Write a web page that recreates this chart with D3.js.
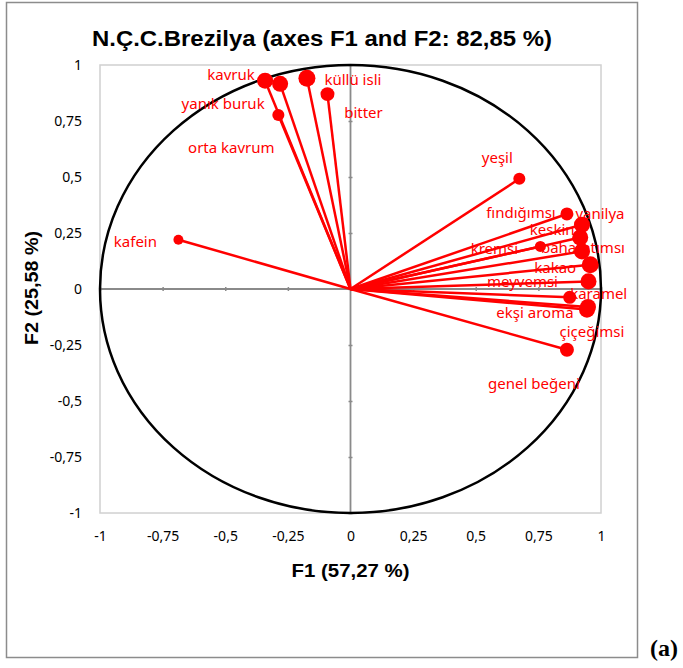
<!DOCTYPE html>
<html>
<head>
<meta charset="utf-8">
<script src="https://cdn.jsdelivr.net/npm/d3@7"></script>
<style>
  html, body { margin: 0; padding: 0; background: #fff; }
  svg { display: block; }
</style>
</head>
<body>
<svg id="chart" width="683" height="668"></svg>
<script>
// Variable loadings on the first two factors (correlation circle)
const variables = ["kavruk", "yanık buruk", "orta kavrum", "küllü isli", "bitter", "kafein",
  "yeşil", "fındığımsı", "vanilya", "keskin", "kremsi", "baharatımsı", "kakao",
  "meyvemsi", "karamel", "ekşi aroma", "çiçeğimsi", "genel beğeni"];
const f1 = [-0.341, -0.281, -0.288, -0.174, -0.092, -0.687,
  0.674, 0.864, 0.924, 0.917, 0.758, 0.924, 0.957,
  0.950, 0.875, 0.944, 0.948, 0.864];
const f2 = [0.930, 0.916, 0.777, 0.941, 0.870, 0.220,
  0.492, 0.335, 0.287, 0.230, 0.190, 0.168, 0.108,
  0.034, -0.037, -0.092, -0.080, -0.271];
// Representation quality of each variable (drives the marker size)
const quality = [0.94, 0.94, 0.69, 1.00, 0.81, 0.56,
  0.69, 0.75, 0.94, 0.94, 0.63, 0.94, 1.00,
  0.94, 0.75, 0.94, 0.94, 0.81];
const ticks = [-1, -0.75, -0.5, -0.25, 0, 0.25, 0.5, 0.75, 1];
const titleText = "N.Ç.C.Brezilya (axes F1 and F2: 82,85 %)";
const xTitle = "F1 (57,27 %)";
const yTitle = "F2 (25,58 %)";

// Label placement relative to each marker (px)
const labelOffset = {
  "kavruk": [-34, -7], "yanık buruk": [-57, 19], "orta kavrum": [-47, 32],
  "küllü isli": [46, 1], "bitter": [36, 18], "kafein": [-43, 1],
  "yeşil": [-22, -22], "fındığımsı": [-46, -2], "vanilya": [18, -12],
  "keskin": [-28, -8], "kremsi": [-46, 2], "baharatımsı": [1, -4],
  "kakao": [-35, 2], "meyvemsi": [-66, 0], "karamel": [29, -4],
  "ekşi aroma": [-52, 2], "çiçeğimsi": [4, 24], "genel beğeni": [-33, 33]
};

const data = variables.map((name, i) => ({ name, x: f1[i], y: f2[i], q: quality[i] }));

const svg = d3.select("#chart");
const plot = { left: 100, right: 601, top: 65, bottom: 513 };
const x = d3.scaleLinear().domain([-1, 1]).range([plot.left, plot.right]);
const y = d3.scaleLinear().domain([-1, 1]).range([plot.bottom, plot.top]);
const r = d3.scaleLinear().domain([0.5, 1]).range([4.5, 8.5]);
const fmt = v => String(v).replace(".", ",");
const red = "#ff0000";
const tickFont = "'Noto Sans', 'Open Sans', sans-serif";
const boldFont = "'Liberation Sans', Arial, sans-serif";

// Outer frame
svg.append("rect").attr("x", 6.5).attr("y", 2.5).attr("width", 631).attr("height", 655)
  .attr("fill", "none").attr("stroke", "#8c8c8c").attr("stroke-width", 1.5);

// Plot area frame
svg.append("rect").attr("x", plot.left).attr("y", plot.top)
  .attr("width", plot.right - plot.left).attr("height", plot.bottom - plot.top)
  .attr("fill", "none").attr("stroke", "#d0d0d0").attr("stroke-width", 1.5);

// Zero axes with cross ticks
const axisColor = "#8a8a8a";
svg.append("line").attr("x1", x(0)).attr("x2", x(0)).attr("y1", y(-1)).attr("y2", y(1))
  .attr("stroke", axisColor).attr("stroke-width", 1.8);
svg.append("line").attr("x1", x(-1)).attr("x2", x(1)).attr("y1", y(0)).attr("y2", y(0))
  .attr("stroke", axisColor).attr("stroke-width", 1.8);
const xAxisAt0 = d3.axisBottom(x).tickValues(ticks).tickSizeInner(4).tickSizeOuter(0).tickFormat("");
const yAxisAt0 = d3.axisLeft(y).tickValues(ticks).tickSizeInner(4).tickSizeOuter(0).tickFormat("");
[[xAxisAt0, `translate(0,${y(0) - 2})`], [yAxisAt0, `translate(${x(0) + 2},0)`]].forEach(([ax, tr]) => {
  const g = svg.append("g").attr("transform", tr).call(ax);
  g.select(".domain").remove();
  g.selectAll(".tick line").attr("stroke", axisColor).attr("stroke-width", 1.5);
});

// Tick labels along the frame edges
const xLab = d3.axisBottom(x).tickValues(ticks).tickSize(0).tickPadding(0).tickFormat(fmt);
const gx = svg.append("g").attr("transform", `translate(0,${plot.bottom + 18})`).call(xLab);
gx.select(".domain").remove();
gx.selectAll("text").attr("font-family", tickFont).attr("font-size", 14).attr("fill", "#000");
const yLab = d3.axisLeft(y).tickValues(ticks).tickSize(0).tickPadding(18).tickFormat(fmt);
const gy = svg.append("g").attr("transform", `translate(${plot.left},0)`).call(yLab);
gy.select(".domain").remove();
gy.selectAll("text").attr("font-family", tickFont).attr("font-size", 14).attr("fill", "#000");

// Unit correlation circle
svg.append("ellipse").attr("cx", x(0)).attr("cy", y(0))
  .attr("rx", x(1) - x(0)).attr("ry", y(0) - y(1))
  .attr("fill", "none").attr("stroke", "#000").attr("stroke-width", 2.5);

// Variable labels
svg.append("g").selectAll("text").data(data).join("text")
  .attr("x", d => x(d.x) + labelOffset[d.name][0])
  .attr("y", d => y(d.y) + labelOffset[d.name][1])
  .attr("text-anchor", "middle").attr("dominant-baseline", "central")
  .attr("font-family", tickFont).attr("font-size", 15).attr("fill", red)
  .text(d => d.name);

// Loading vectors
svg.append("g").selectAll("line").data(data).join("line")
  .attr("x1", x(0)).attr("y1", y(0))
  .attr("x2", d => x(d.x)).attr("y2", d => y(d.y))
  .attr("stroke", red).attr("stroke-width", 2.5);

// Markers
svg.append("g").selectAll("circle").data(data).join("circle")
  .attr("cx", d => x(d.x)).attr("cy", d => y(d.y)).attr("r", d => r(d.q))
  .attr("fill", red);

// Titles
svg.append("text").attr("x", 322).attr("y", 38).attr("text-anchor", "middle")
  .attr("dominant-baseline", "central")
  .attr("font-family", boldFont).attr("font-weight", "bold")
  .attr("font-size", 22).attr("textLength", 460).attr("lengthAdjust", "spacingAndGlyphs")
  .attr("fill", "#000").text(titleText);
svg.append("text").attr("x", x(0)).attr("y", 570).attr("text-anchor", "middle")
  .attr("dominant-baseline", "central")
  .attr("font-family", boldFont).attr("font-weight", "bold")
  .attr("font-size", 19).attr("textLength", 118).attr("lengthAdjust", "spacingAndGlyphs")
  .attr("fill", "#000").text(xTitle);
svg.append("text").attr("transform", `translate(31,${y(0) - 1}) rotate(-90)`)
  .attr("text-anchor", "middle").attr("dominant-baseline", "central")
  .attr("font-family", boldFont).attr("font-weight", "bold")
  .attr("font-size", 19).attr("textLength", 114).attr("lengthAdjust", "spacingAndGlyphs")
  .attr("fill", "#000").text(yTitle);

// Panel tag
svg.append("text").attr("x", 650).attr("y", 656)
  .attr("font-family", "'Liberation Serif', 'Times New Roman', serif").attr("font-weight", "bold")
  .attr("font-size", 24).attr("fill", "#000").text("(a)");
</script>
</body>
</html>
